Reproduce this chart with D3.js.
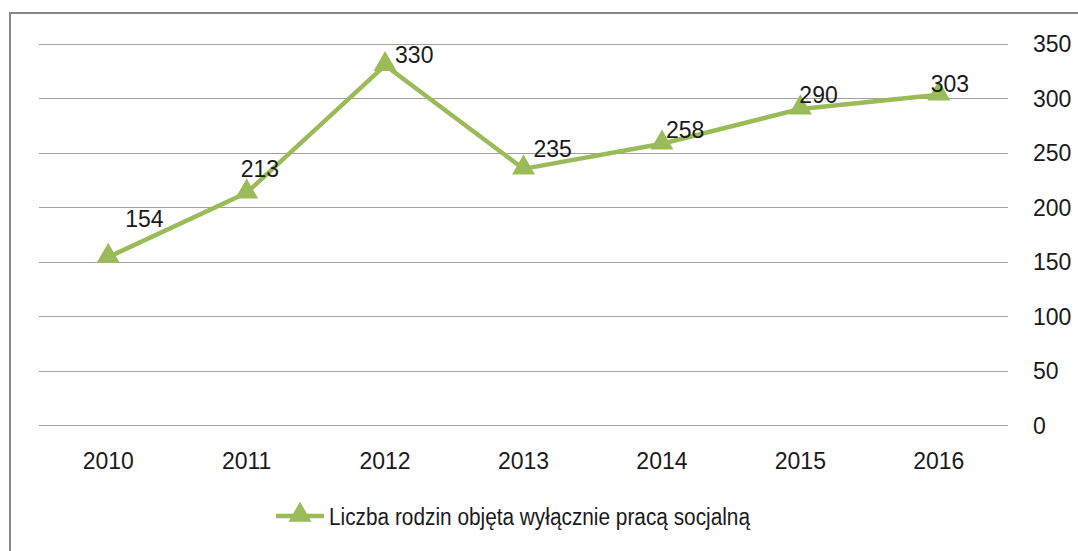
<!DOCTYPE html>
<html><head><meta charset="utf-8">
<script src="https://cdn.jsdelivr.net/npm/d3@7"></script>
<style>
html,body{margin:0;padding:0;background:#fff;overflow:hidden}
text{font-family:"Liberation Sans",Arial,sans-serif;fill:#1a1a1a}
</style></head>
<body>
<svg id="c" width="1078" height="551"></svg>
<script>
const categories = ["2010","2011","2012","2013","2014","2015","2016"];
const values = [154,213,330,235,258,290,303];
const yTicks = [0,50,100,150,200,250,300,350];
const seriesName = "Liczba rodzin objęta wyłącznie pracą socjalną";
// label offsets relative to point (dx to text left edge, dy to baseline)
const labelDx = [17,-6,10,10,4,-1,-8];
const labelDy = [-30,-16,-2,-12,-6,-6,-3];

(function(){
const svg = d3.select("#c");
const color = "#9BBB59";
const mLeft = 39, mRight = 1008, mTop = 43.5, mBottom = 425;

svg.append("rect").attr("x",10).attr("y",13).attr("width",1200).attr("height",700)
  .attr("fill","none").attr("stroke","#888").attr("stroke-width",2);

const x = d3.scaleBand().domain(categories).range([mLeft,mRight]);
const y = d3.scaleLinear().domain([0,350]).range([mBottom,mTop]);

// gridlines
svg.append("g").selectAll("line").data(yTicks).join("line")
  .attr("x1",mLeft).attr("x2",mRight)
  .attr("y1",d=>Math.round(y(d))+0.5).attr("y2",d=>Math.round(y(d))+0.5)
  .attr("stroke","#a0a0a0").attr("stroke-width",1);

// right axis labels
const yAxis = d3.axisRight(y).tickValues(yTicks).tickSize(0).tickPadding(0);
const ga = svg.append("g").attr("transform",`translate(1033,0)`).call(yAxis);
ga.select(".domain").remove();
ga.selectAll("text").attr("font-size",23).attr("fill","#1a1a1a")
  .style("font-family","Liberation Sans, Arial, sans-serif").attr("x",0).attr("dy","0.35em");

// x axis labels
const xAxis = d3.axisBottom(x).tickSize(0).tickPadding(0);
const gx = svg.append("g").attr("transform",`translate(0,${mBottom})`).call(xAxis);
gx.select(".domain").remove();
gx.selectAll("text").attr("font-size",23).attr("fill","#1a1a1a")
  .style("font-family","Liberation Sans, Arial, sans-serif").attr("y",44).attr("dy",0);

const cx = d => x(d) + x.bandwidth()/2;

// line
const line = d3.line().x((d,i)=>cx(categories[i])).y(d=>y(d));
svg.append("path").datum(values).attr("d",line).attr("fill","none")
  .attr("stroke",color).attr("stroke-width",4.5).attr("stroke-linejoin","round");

// markers
const tri = d3.symbol().type(d3.symbolTriangle).size(230);
svg.append("g").selectAll("path").data(values).join("path")
  .attr("d",tri)
  .attr("transform",(d,i)=>`translate(${cx(categories[i])},${y(d)-1})`)
  .attr("fill",color);

// data labels
svg.append("g").selectAll("text").data(values).join("text")
  .attr("x",(d,i)=>cx(categories[i])+labelDx[i])
  .attr("y",(d,i)=>y(d)+labelDy[i])
  .attr("font-size",23)
  .text(d=>d);

// legend
const lg = svg.append("g");
lg.append("line").attr("x1",276).attr("x2",324).attr("y1",516).attr("y2",516)
  .attr("stroke",color).attr("stroke-width",4.5);
lg.append("path").attr("d",tri).attr("transform","translate(300,515)").attr("fill",color);
lg.append("text").attr("x",329).attr("y",525).attr("font-size",23)
  .attr("textLength",421).attr("lengthAdjust","spacingAndGlyphs").text(seriesName);
})();
</script>
</body></html>
